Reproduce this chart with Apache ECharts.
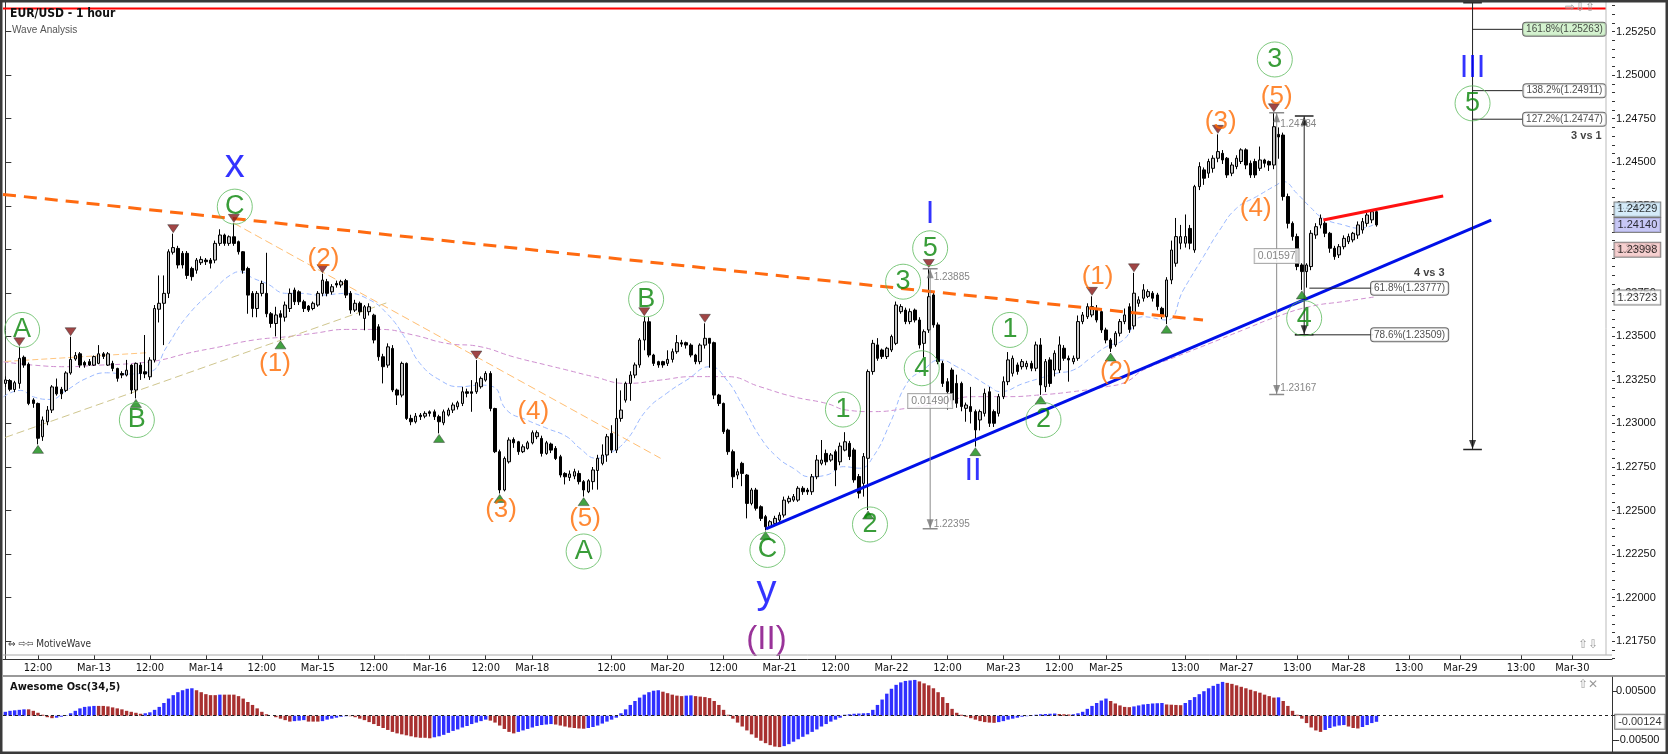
<!DOCTYPE html>
<html><head><meta charset="utf-8">
<script src="https://cdn.jsdelivr.net/npm/echarts@6/dist/echarts.min.js"></script>
<style>html,body{margin:0;padding:0;background:#fff;overflow:hidden}#c{width:1668px;height:754px}</style>
</head><body><div id="c"></div>
<script>
// ---------- DATA (prices in pips above 1.2000) ----------
const candleOpen = [
323,324.5,319.5,323,338,334,313.5,311.5,292.4,301,
307.7,321,319.6,319,329,337,340,335,335.5,333.5,
334.5,340,333.5,334.5,331.6,328.7,327.8,333.5,319.2,333.5,
329.7,326.8,336.4,365.6,369,374.7,398.3,400.5,397.7,397.7,
389,388,392.3,393.8,393.8,393.8,403.4,408.2,403.4,407.2,
404.4,398.6,389,374.7,366,374.7,374.7,363,357.4,363,
361,366,376.6,375.6,369.9,367.4,366,368,374.7,381.4,
375.6,380.4,379.5,382,374.7,365.1,369,360.3,364.2,362.2,
355.5,338.3,333.5,343.1,319.2,316.3,334.5,302.9,301,304.8,
304.2,306.7,306.7,303.9,300.4,304.8,307.7,309.6,311.5,318.2,
318.2,318.2,321.1,324.9,328.7,308.6,283.8,261.8,278,290.8,
289.5,283.8,285.7,288.9,292.4,291.4,282.8,288.2,285.7,280.9,
271.3,269,269.8,271.3,266.6,260.8,266.6,273,277.1,281.9,
294.3,284.7,302.9,313.4,323,327.8,333.6,347.9,358.4,339.3,
335.5,335.5,334.5,336.8,341.2,346.4,346.4,345,339.3,335.5,
345,348.9,346.4,316.3,311.5,296.2,283.8,270.4,277.1,270.4,
254.1,261.8,252.2,246.5,240.7,242.6,244.5,247.4,255.1,256,
256,262.8,261.8,260.8,269.4,277.1,282.8,279,283.8,278,
284.7,288.6,284.8,269.5,265.6,280,329.8,345.1,342.2,338.4,
342.2,346,364.2,365.1,358.5,365.1,359.4,346,353.7,373.8,
356.6,334.5,324,330.7,323,323,308.7,309.7,306.8,302,
305.8,318.2,306.8,305.8,315.4,324,328.8,333.6,332.6,332.6,
334.5,331.7,345.1,321.1,336.5,330.7,330.7,343.2,337.4,335.5,
337.4,358.5,361.3,362.3,366.1,364.2,353.7,347.9,345.1,351.8,
358.5,367,356,369,371.9,373,374.8,373.8,366.1,361.3,
382.4,392,403.5,403.5,412,399.6,436,445.6,443.7,446.5,
452.3,455.1,452.3,443.7,447.5,450.4,457.1,449.4,450.4,446.5,
451.3,450.4,448.4,466,465.6,430.3,414.9,407.3,391,387.2,
390.1,408.2,414,415,409.2,400.6,396.8,401.5,404.4,405.4,
408.2,411.1,414.9,416.9,421.6];
const candleClose = [
325,319.6,323.4,337.4,333.5,311.5,311.5,291.5,302,307.7,
321,317,317,329,336.8,339,333.5,333.5,333.5,338.4,
340,338.5,340,331.6,325.9,327.8,330.6,319.2,334.5,328.7,
328.4,336.4,366,369,374.7,398.6,401,391,391,385,
384.3,393.8,394.2,392.9,392,403.4,408.2,403.4,407.2,403.4,
398.6,388,373.7,366,374.7,380.4,363,357.4,362.3,361,
368,374.7,369.9,369.9,366,365.1,369,374.7,382.3,374.7,
378.5,379.5,381.4,373.7,365.1,369,364.2,367,367,347.9,
338.3,332.6,344,319.2,316.3,334.5,302.9,301,304.2,303.9,
305.8,305.8,303.9,301,306.7,307.7,310.6,311.9,318.2,317.3,
317.3,323.4,325.9,328.7,308.6,283.8,261.8,279.9,290.5,288.9,
283.8,286.6,288.9,294.7,294.7,282.8,288.9,284.7,279.9,270.4,
269.4,271,272.3,266.6,261.8,267.1,273.3,280,281.9,292.4,
284.7,302.9,307.7,323,327.8,333.6,347.9,358.4,339.3,334.5,
333.6,333.6,336.8,341.2,346.4,345.6,345,339.3,335.5,345,
348.9,346,316.3,311.5,295.3,283.8,269.4,272.3,271.3,254.1,
261.8,251.3,245.5,240.7,243.6,245.5,247.4,256,257,258,
262.8,260.8,260.8,269.4,279,279,278,281.9,273.3,287,
289.5,281,267.6,260,281,329.8,346,337.4,338.4,343.2,
349.9,368,367.1,358.5,364.2,359.4,345.1,352.7,372.8,356.6,
335.5,323,318.2,313.5,311.6,309.7,310.6,306.8,296.3,306.8,
317.3,300.1,300.1,315.4,324,336.5,337.4,329.8,335.5,334.5,
331.7,345.1,322.1,335.5,323,340.3,345.1,337.4,336.5,337.4,
358.5,362.3,367.1,367.1,359.4,353.7,347.9,343.2,351.8,358.5,
362.3,354,374.8,371,376.7,375.7,371.9,367.1,362.3,382.4,
399.6,407.3,407.3,407.3,403.5,436,447.5,440.8,450.4,452.3,
456.1,451.3,442.7,448.4,452.3,457.1,448.4,442.7,442.7,451.3,
449.4,448.4,470.4,464.5,430.3,414.9,407.3,390.1,387.2,391,
409.2,413,417.9,409.2,400.6,395.8,401.5,406.3,407.3,409.2,
414,415.9,419.7,421.6,414];
const candleHigh = [
327,325.5,324.5,344,339,335,314.5,312,304,310,
322,325.8,321,330,349.8,341,341,336,337,339,
345,341,341,336,332,330,336.5,334,335,335,
350.8,338,368,385,385,400,409,402,399,399,
390,395,396,395,395,405,411.5,409,408,414.9,
405,399,390,376,376,382,398,364,367,365,
370,377.5,378,376.5,371,368,370,376,386,383,
380,382,382.5,383,376,371,370,368,369,363,
357,340,346,345,320,335.5,335,305,306,306,
307,307.5,308,305,308,309,312,313,321,320,
324.9,336.4,327,330,330,309,285,281,292,292,
290,288,290,296,296,293,290,289,287,282,
272,273,274,273,267.5,268,275,282,288,294,
299,325.9,319,324,330,335,349,361.3,361,340,
336,336,342,343,350.8,348,347,346,340,346,
357.5,349,347,317,312,297,285,274,278,271,
263,263,253,247.5,244.5,247,249,258,258.5,259.5,
264,264,263,271,281.9,290.5,285,283,285,289,
295,290,286,271,283,331,348,349,343,344,
351,370,368.5,366.5,366,366,361,354,389,375.7,
358,336,326,332,328,324,312,321,308,308,
320,321,308,317,327,341,339,335,337,336,
336,347,349,337,338,342,350,345,339,339,
362,364,369,373,368,365,355,349,353,360,
366,369,386.5,373,380,377,376,375,367,384,
405,418,414,420,414,437,450,447,452,454,
466,457,453,450,454,458,458,451,452,459,
452,451,478.4,470,467,432,416,409,392,392,
411,415,420,417,410,402,403,408,409,410,
416,418,421,423,423];
const candleLow = [
321,318.5,318,320,332,310.5,309,288,290,299,
306,316,314,318,328,336,332,332,333,333,
334,337,333,330,324,326,327,317,314.4,325,
326,325,335,358,345,372,397,389,389,383,
382,386,391,391,389,392,402,402,402,402,
397,386,363,361,361,373,361,355,350,348,
358.5,364,368,368,364,364,365,367,373,373,
374,378,378,372,363,364,362,353.5,362,346,
336,323,332,318,310.6,315,302,299,300,302,
303,304,302,294.3,299,304,306,308,310,315,
306.7,317,320,324,307,283,259.8,261,277,286,
282,283,285,288,291,281,282,283,279,269,
265,267,268,265,258,260,262,262,276,278,
283,283,301,312,313,326,332,342,338,333,
332,332,333,335,340,344,343,338,334,334,
343,332,314,310,294,282,263,268,264,245.5,
253,250,244,238.6,240,241,243,246,254,255,
255,259,259,259,268,276,276,278,264,276,
284,279,266,257,258,250.3,328,336,337,337,
341,345,363,357,357,358,343,338,352,355,
334,321,308,311,309,307,301,300,286.7,296,
304,298,298,304,314,322,327,328,331,331,
330,330,316.4,318,321,327,329,336,324,334,
336,357,360,361,358,352,346,341,344,350,
357,352,354,367,370,372,370,365,360,357,
380,390,400,401,400,398,434,437,441,444,
450,449,441,442,446,449,446,441,441,445,
447,445,446,452,428,412,405,388,376.7,378,
388,406,412,407,398,394,395,400,403,404,
406,409,413,415,413];
// Awesome oscillator (pips)
const aoValues = [
8,10,11,12,13,13,10,6,2,-3,
-5,-4,-2,1,5,10,15,18,19,20,
20,20,19,17,15,13,10,8,6,4,
5,7,12,18,26,35,42,48,52,55,
56,52,48,44,42,42,43,43,43,43,
40,35,28,22,15,8,3,0,-3,-6,
-9,-12,-11,-10,-9,-12,-12,-12,-11,-8,
-6,-4,-2,-1,-1,-3,-6,-9,-13,-17,
-21,-25,-29,-33,-36,-38,-40,-42,-44,-45,
-45,-46,-44,-42,-39,-35,-31,-28,-24,-21,
-17,-14,-11,-8,-10,-14,-20,-27,-33,-36,
-33,-30,-27,-24,-21,-19,-18,-17,-18,-20,
-22,-24,-25,-26,-26.5,-25,-23,-20,-16,-12,
-8,-4,5,13,22,30,37,43,48,51,
52,49,46,43,41,40,41,41.5,40,39,
38,36,30,22,12,2,-6,-14,-22,-30,
-38,-45,-51,-56,-60,-63,-64,-62,-58,-53,
-48,-43,-38,-33,-28,-22,-17,-12,-8,-4,
2,3,4,4.5,5,5.5,12,22,33,45,
55,63,68,71,72,73,70,66,62,56,
48,38,26,14,6,2,-2,-5,-8,-11,
-13,-14,-14.5,-13,-11,-8,-6,-4,-2,-1,
1,2,3,3.5,4,4.5,3.5,3,2.5,3,
5,8,14,20,26,31,35,30,25,21,
18,17.5,19,21,23,24,25,25.5,26,23,
22.5,22,21.5,26,32,38,44,50,56,61,
65,69,67,65,62,59,56,53,50,47,
43,40,37,37.5,30,20,10,2,-6,-15,
-24,-30,-33,-29,-25,-22,-20,-19,-22,-25,
-26,-23,-19,-15,-12.4];
// moving averages: [bar index, pips]
const maFast = [[-0.4,315.3],[3.2,319],[6,315.3],[9.6,313.8],[13.2,319.2],[17.4,325.9],[21.7,329.1],[26,328.4],[31,329.7],[34.6,344],[38.9,361.3],[44.6,376.6],[48.9,386.2],[50.3,387.1],[53.2,383.3],[56,380.4],[60.3,374.7],[63.2,374.7],[67.5,373.7],[73.2,374.7],[77.5,371.8],[81.8,363.2],[86,347.9],[88.9,334.5],[93.2,324.9],[97.5,321.1],[101.8,322],[104.6,321.1],[107.5,307.7],[111.8,302],[116.1,297.2],[120.4,292.4],[123.2,285.7],[126.8,280],[129.6,282.8],[133.2,290.5],[137.5,307.7],[141.8,317.3],[146.1,324.9],[151.1,332.6],[154.7,324.9],[158.2,309.6],[161.8,292.4],[165.4,280.9],[169,274.2],[172.5,269.4],[176.1,270.4],[179.7,275.2],[183.2,274.3],[186.1,281],[189.7,300.1],[193.3,323],[196.8,330.7],[200.4,336.5],[204,332.6],[207.6,326.9],[211.1,321.1],[213.3,318.3],[218.3,323],[221.9,326],[225.4,328.8],[229,330.7],[232.6,337.4],[236.1,344.1],[239.7,347.9],[244,361.3],[249,359.4],[252.6,376.7],[256.9,395.8],[260.4,411.1],[264,423.6],[268.3,430.3],[272.6,437],[274,438.9],[276.9,432.2],[279.7,424.5],[282.6,417.8],[286.9,414],[290.5,412.1],[293.3,414]];
const maSlow = [[-0.4,335.4],[6,333.5],[13.2,332.6],[20.3,333.5],[27.5,334.5],[33.2,336.4],[38.9,340.2],[46,344],[53.2,347.9],[60.3,349.8],[66,351.7],[73.2,354],[80.3,354],[87.5,350.8],[94.6,346],[101.8,344.1],[108.9,338.3],[116.1,333.5],[120.4,330.7],[126.1,326.9],[133.2,323],[140.4,324.9],[147.5,326.9],[154.7,326.9],[161.8,321.1],[168.9,315.4],[176.1,311.5],[180.4,307.7],[186.1,306.8],[193.3,308.7],[200.4,311.6],[207.6,315.4],[214.7,315.4],[221.9,316.4],[229,318.3],[236.1,321.1],[240.4,324],[244,330.7],[251.1,338.4],[258.3,346],[265.4,353.7],[272.6,361.3],[279.7,367.1],[286.9,370],[294,372.8]];
// time axis
const timeLabelIdx = [7,19,31,43,55,67,79,91,103,113,130,142,154,166,178,190,202,214,226,236,253,264,277,288,301,312,325,336];
const timeLabelText = ['12:00','Mar-13','12:00','Mar-14','12:00','Mar-15','12:00','Mar-16','12:00','Mar-18','12:00','Mar-20','12:00','Mar-21','12:00','Mar-22','12:00','Mar-23','12:00','Mar-25','13:00','Mar-27','13:00','Mar-28','13:00','Mar-29','13:00','Mar-30'];
const priceTicks = [1.2175,1.22,1.2225,1.225,1.2275,1.23,1.2325,1.235,1.2375,1.24,1.2425,1.245,1.2475,1.25,1.2525];
const oscTicks = [-0.005,0.005];
const priceTags = [1.24229,1.24140,1.23998,1.23723];
// swing markers (bar indices)
const swingHighIdx = [3,14,36,49,68,101,137,150,198,233,242,260,272];
const swingLowIdx = [7,28,59,93,106,124,163,185,208,222,237,249,278];
// wave labels [bar index, pips, text]
const greenWaves = [[3.6,353.7,'A'],[28.2,302,'B'],[49.2,424.5,'C'],[124,226.5,'A'],[137.4,371.3,'B'],[163.4,227.4,'C'],[179.6,308,'1'],[185.4,242,'2'],[192.5,381.4,'3'],[196.5,331.7,'4'],[198.3,400.6,'5'],[215.4,353.7,'1'],[222.6,302,'2'],[272.2,509,'3'],[278.5,360.4,'4'],[314.6,483.8,'5']];
const orangeWaves = [[57.8,334.5,'(1)'],[68.2,394.8,'(2)'],[106.3,250.3,'(3)'],[113.2,306.8,'(4)'],[124.3,245.5,'(5)'],[234.2,384.3,'(1)'],[238.1,329.8,'(2)'],[260.6,473.3,'(3)'],[268.1,423.5,'(4)'],[272.6,487.6,'(5)']];
const blueLetters = [[49.2,447.6,'x'],[163.2,203,'y']];
const blueRoman = [[198.3,420,'I'],[207.5,272.2,'II'],[314.6,503.9,'III']];
const purpleWaves = [[163.2,175.5,'(II)']];
// trend lines [[bar, pips],[bar, pips]]
const lineOrangeThick = [[-0.5,431.5],[256.8,359.4]];
const lineBlue = [[163.1,239.5],[318.6,416.8]];
const lineRedShort = [[282.6,416.8],[308.3,430.6]];
const lineRedTop = [[-0.5,538.3],[343.2,538.3]];
const lineOrangeThin = [[49,415],[140.5,280]];
const lineOliveThin = [[0,292],[82,369.5]];
const lineOrangeFlat = [[0,335.6],[30.3,340.6]];
// measure tools
const measures = [
  {x:198.3, top:388.85, bottom:239.5, topText:'1.23885', bottomText:'1.22395', topOff:9, botOff:-5, box:'0.01490', boxP:312.9},
  {x:272.6, top:478.4, bottom:316.7, topText:'1.24784', bottomText:'1.23167', topOff:11, botOff:-6, box:'0.01597', boxP:396.2}
];
const fib43 = {x:278.5, top:476.5, bottom:350.9, levels:[[279.6,377.7,'61.8%(1.23777)'],[276.5,350.9,'78.6%(1.23509)']], lineEnd:293.3, boxX:301.1, title:[308.7,386.6,'4 vs 3']};
const fib31 = {x:314.6, top:541.6, bottom:285, levels:[[314.6,526.3,'161.8%(1.25263)'],[314.6,491.1,'138.2%(1.24911)'],[314.6,474.7,'127.2%(1.24747)']], lineEnd:325.3, boxX:334.3, title:[342.4,465.1,'3 vs 1']};

// ---------- CHART ----------
const N_SLOTS = 345;
const P = p => 1.2 + p * 0.0001;
const YMAX = 1.2542, YMIN = 1.2542 - 657 / 17416;
const OMAX = 0.0079, OMIN = -0.0074;
const FONT = "'Liberation Sans', Arial, Helvetica, sans-serif";
const NARROW = "'Liberation Sans Narrow', 'Arial Narrow', 'DejaVu Sans Condensed', 'Liberation Sans', sans-serif";
const labelSet = new Set(timeLabelIdx);
const cats = Array.from({length: N_SLOTS}, (_, i) => { const k = timeLabelIdx.indexOf(i); return k >= 0 ? timeLabelText[k] : ' ' + i; });
const minorTicks = []; for (let v = 1.2165; v < 1.2542; v += 0.0005) minorTicks.push(+v.toFixed(4));

const candleData = candleOpen.map((o, i) => {
  const c = candleClose[i];
  const h = Math.max(candleHigh[i], o, c), l = Math.min(candleLow[i], o, c);
  return [P(o), P(c), P(l), P(h)];
});
const aoData = aoValues.map((v, i) => ({
  value: v * 0.0001,
  itemStyle: {color: (i === 0 || v > aoValues[i - 1]) ? '#2f2fff' : '#a83030'}
}));

function seg(pts, color, width, type, z) {
  return {type: 'line', xAxisIndex: 1, yAxisIndex: 0, data: pts.map(([i, p]) => [i, P(p)]), symbol: 'none', silent: true,
    lineStyle: {color: color, width: width, type: type || 'solid'}, z: z || 6};
}
function texts(items, label, z) {
  return {type: 'scatter', xAxisIndex: 1, yAxisIndex: 0, symbolSize: 1, itemStyle: {color: 'rgba(0,0,0,0)'}, silent: true, clip: false, z: z || 8,
    data: items.map(([i, p, t]) => ({value: [i, P(p)], name: t})),
    label: Object.assign({show: true, position: 'inside', formatter: '{b}', fontFamily: FONT}, label)};
}
function arrows(items, color) {
  return {type: 'scatter', xAxisIndex: 1, yAxisIndex: 0, symbol: 'triangle', symbolSize: [7, 9], silent: true, z: 7,
    itemStyle: {color: color},
    data: items.map(([i, p, d]) => ({value: [i, P(p)], symbolRotate: d === 'down' ? 180 : 0, symbolOffset: [0, d === 'down' ? -5 : 5]}))};
}
const boxLabel = {color: '#222', fontSize: 10, backgroundColor: '#fff', borderColor: '#444', borderWidth: 1, borderRadius: 3, padding: [2, 3, 1, 3]};

const series = [];
// moving averages
series.push({type: 'line', xAxisIndex: 1, yAxisIndex: 0, data: maFast.map(([i, p]) => [i, P(p)]), smooth: 0.5, symbol: 'none', silent: true,
  lineStyle: {color: '#9bb9ff', width: 1, type: [5, 3]}, z: 3});
series.push({type: 'line', xAxisIndex: 1, yAxisIndex: 0, data: maSlow.map(([i, p]) => [i, P(p)]), smooth: 0.5, symbol: 'none', silent: true,
  lineStyle: {color: '#cf8fd0', width: 1, type: [5, 3]}, z: 3});
// price tags on the right axis
const tagBg = ['#cbe6f7', '#b9b9f2', '#f4c4c4', '#ffffff'];
priceTags.forEach((v, k) => {
  series.push({type: 'scatter', xAxisIndex: 1, yAxisIndex: 0, symbolSize: 1, itemStyle: {color: 'rgba(0,0,0,0)'}, silent: true, clip: false, z: 20,
    data: [{value: [N_SLOTS - 0.5, v], name: v.toFixed(5)}],
    label: {show: true, position: 'right', distance: 2, formatter: '{b}', fontFamily: FONT, fontSize: 11, color: '#000',
      backgroundColor: tagBg[k], borderColor: '#666', borderWidth: 1, padding: [2, 3, 1, 3]}});
});
// thin trend lines
series.push(seg(lineOrangeFlat, '#ffc680', 1, [6, 3], 4));
series.push(seg(lineOliveThin, '#cfc68e', 1, [8, 4], 4));
series.push(seg(lineOrangeThin, '#ffbe72', 1, [8, 4], 4));
// candles
series.push({type: 'candlestick', xAxisIndex: 0, yAxisIndex: 0, data: candleData, barWidth: 3, silent: true, z: 5,
  itemStyle: {color: '#c6c6c6', color0: '#000', borderColor: '#000', borderColor0: '#000', borderWidth: 1}});
// thick trend lines
series.push(seg(lineOrangeThick, '#ff6a10', 3, [13, 8], 6));
series.push(seg(lineBlue, '#0010e8', 3, 'solid', 6));
series.push(seg(lineRedShort, '#ff1010', 3, 'solid', 6));
series.push(seg(lineRedTop, '#ff0000', 2, 'solid', 6));
// swing markers
series.push({type: 'scatter', xAxisIndex: 0, yAxisIndex: 0, symbol: 'triangle', symbolSize: [11, 8], symbolRotate: 180, symbolOffset: [0, -5], silent: true, z: 7,
  itemStyle: {color: '#8a1616', borderColor: '#333', borderWidth: 0.6}, data: swingHighIdx.map(i => [i, P(Math.max(candleHigh[i], candleOpen[i], candleClose[i]))])});
series.push({type: 'scatter', xAxisIndex: 0, yAxisIndex: 0, symbol: 'triangle', symbolSize: [11, 8], symbolOffset: [0, 5], silent: true, z: 7,
  itemStyle: {color: '#138a13', borderColor: '#333', borderWidth: 0.6}, data: swingLowIdx.map(i => [i, P(Math.min(candleLow[i], candleOpen[i], candleClose[i]))])});
// measure tools (gray)
measures.forEach(m => {
  series.push(seg([[m.x, m.top], [m.x, m.bottom]], '#8a8a8a', 1, 'solid', 6));
  series.push(seg([[m.x - 1.6, m.top], [m.x + 1.6, m.top]], '#8a8a8a', 1.5, 'solid', 6));
  series.push(seg([[m.x - 1.6, m.bottom], [m.x + 1.6, m.bottom]], '#8a8a8a', 1.5, 'solid', 6));
  series.push(arrows([[m.x, m.top, 'up'], [m.x, m.bottom, 'down']], '#777'));
  series.push(texts([[m.x, m.top, m.topText]], {position: 'right', distance: 3, offset: [0, m.topOff], color: '#666', fontSize: 10}));
  series.push(texts([[m.x, m.bottom, m.bottomText]], {position: 'right', distance: 3, offset: [0, m.botOff], color: '#666', fontSize: 10}));
  series.push(texts([[m.x, m.boxP, m.box]], Object.assign({}, boxLabel, {color: '#666', borderColor: '#999', borderRadius: 0, fontSize: 10.5})));
});
// fib tools (black)
[fib43, fib31].forEach((f, k) => {
  series.push(seg([[f.x, f.top], [f.x, f.bottom]], '#222', 1, 'solid', 6));
  series.push(seg([[f.x - 2, f.top], [f.x + 2, f.top]], '#222', 1.5, 'solid', 6));
  series.push(seg([[f.x - 2, f.bottom], [f.x + 2, f.bottom]], '#222', 1.5, 'solid', 6));
  series.push(arrows(k === 0 ? [[f.x, f.top, 'up'], [f.x, f.bottom, 'down']] : [[f.x, f.bottom, 'down']], '#111'));
  f.levels.forEach(([x0, p, t], j) => {
    series.push(seg([[x0, p], [f.lineEnd, p]], '#222', 1, 'solid', 6));
    series.push(texts([[f.boxX, p, t]], Object.assign({}, boxLabel, (k === 1 && j === 0) ? {backgroundColor: '#c9efc3'} : {})));
  });
  series.push(texts([f.title], {position: 'left', distance: 0, color: '#111', fontSize: 11, fontWeight: 'bold'}));
});
// wave labels
series.push({type: 'scatter', xAxisIndex: 1, yAxisIndex: 0, symbol: 'circle', symbolSize: 35, silent: true, z: 8,
  itemStyle: {color: 'rgba(255,255,255,0)', borderColor: '#5cba5c', borderWidth: 1},
  data: greenWaves.map(([i, p, t]) => ({value: [i, P(p)], name: t})),
  label: {show: true, position: 'inside', formatter: '{b}', color: '#078507', fontSize: 27, fontFamily: FONT}});
series.push(texts(orangeWaves, {color: '#ff6a00', fontSize: 26}));
series.push(texts(blueLetters, {color: '#0000ff', fontSize: 40}));
series.push(texts(blueRoman, {color: '#0000ff', fontSize: 31}));
series.push(texts(purpleWaves, {color: '#800080', fontSize: 33}));
// oscillator
series.push({type: 'bar', xAxisIndex: 2, yAxisIndex: 2, data: aoData, barWidth: 3.4, silent: true, z: 3,
  markLine: {symbol: 'none', silent: true, animation: false,
    data: [{yAxis: 0, lineStyle: {color: '#222', type: [3, 3], width: 1}, label: {show: false}}]}});
series.push({type: 'scatter', xAxisIndex: 2, yAxisIndex: 2, symbolSize: 1, itemStyle: {color: 'rgba(0,0,0,0)'}, silent: true, clip: false, z: 20,
  data: [{value: [N_SLOTS - 1, aoValues[aoValues.length - 1] * 0.0001], name: (aoValues[aoValues.length - 1] * 0.0001).toFixed(5)}],
  label: {show: true, position: 'right', distance: 5, formatter: '{b}', fontFamily: FONT, fontSize: 11, color: '#000',
    backgroundColor: '#fff', borderColor: '#555', borderWidth: 1, padding: [2, 3, 1, 3]}});

const chart = echarts.init(document.getElementById('c'), null, {renderer: 'canvas'});
chart.setOption({
  animation: false,
  backgroundColor: '#fff',
  textStyle: {fontFamily: FONT},
  grid: [
    {left: 3, top: 2, width: 1609, height: 657},
    {left: 3, top: 677, width: 1609, height: 75}
  ],
  xAxis: [
    {type: 'category', gridIndex: 0, data: cats, boundaryGap: true,
      axisLine: {show: true, lineStyle: {color: '#333'}},
      axisTick: {show: true, interval: (i) => labelSet.has(i), alignWithLabel: true, inside: true, length: 4, lineStyle: {color: '#333'}},
      axisLabel: {interval: (i) => labelSet.has(i), fontSize: 11, color: '#111', fontFamily: NARROW, margin: 4},
      splitLine: {show: false}},
    {type: 'value', gridIndex: 0, min: -0.5, max: N_SLOTS - 0.5, show: false},
    {type: 'category', gridIndex: 1, data: cats, boundaryGap: true, show: false}
  ],
  yAxis: [
    {type: 'value', gridIndex: 0, position: 'right', min: YMIN, max: YMAX,
      axisLine: {show: true, lineStyle: {color: '#333'}},
      axisTick: {show: true, length: 6, customValues: priceTicks, lineStyle: {color: '#333'}},
      axisLabel: {customValues: priceTicks, formatter: v => v.toFixed(5), fontSize: 11, color: '#111', fontFamily: FONT, margin: 4},
      splitLine: {show: false}},
    {type: 'value', gridIndex: 0, position: 'right', min: YMIN, max: YMAX,
      axisLine: {show: false}, axisTick: {show: true, length: 3, customValues: minorTicks, lineStyle: {color: '#333'}},
      axisLabel: {show: false}, splitLine: {show: false}},
    {type: 'value', gridIndex: 1, position: 'right', min: OMIN, max: OMAX,
      axisLine: {show: true, lineStyle: {color: '#333'}},
      axisTick: {show: true, length: 5, customValues: [-0.005, 0, 0.005], lineStyle: {color: '#333'}},
      axisLabel: {customValues: oscTicks, formatter: v => v.toFixed(5), fontSize: 11, color: '#111', fontFamily: FONT, margin: 4},
      splitLine: {show: false}}
  ],
  series: series,
  graphic: [
    {type: 'rect', silent: true, z: 100, shape: {x: 1, y: 1, width: 1666, height: 752}, style: {fill: 'none', stroke: '#3a3a3a', lineWidth: 3}},
    {type: 'line', silent: true, z: 50, shape: {x1: 3, y1: 655, x2: 1612, y2: 655}, style: {stroke: '#aaa', lineWidth: 1}},
    {type: 'line', silent: true, z: 50, shape: {x1: 1606, y1: 2, x2: 1606, y2: 655}, style: {stroke: '#bbb', lineWidth: 1}},
    {type: 'line', silent: true, z: 50, shape: {x1: 3, y1: 676, x2: 1665, y2: 676}, style: {stroke: '#777', lineWidth: 1.5}},
    {type: 'text', silent: true, z: 60, left: 10, top: 8, style: {text: 'EUR/USD - 1 hour', font: "bold 12px " + NARROW, fill: '#111'}},
    {type: 'text', silent: true, z: 60, left: 12, top: 25, style: {text: 'Wave Analysis', font: "10px " + FONT, fill: '#555'}},
    {type: 'text', silent: true, z: 60, left: 8, top: 639, style: {text: '⇔ ⇨⇦ MotiveWave', font: "10px " + NARROW, fill: '#333'}},
    {type: 'text', silent: true, z: 60, left: 10, top: 682, style: {text: 'Awesome Osc(34,5)', font: "bold 11px " + NARROW, fill: '#111'}},
    {type: 'text', silent: true, z: 60, left: 1565, top: 2, style: {text: '⇨⇩⇧', font: "12px " + FONT, fill: '#999'}},
    {type: 'text', silent: true, z: 60, left: 1578, top: 639, style: {text: '⇧⇩', font: "12px " + FONT, fill: '#999'}},
    {type: 'text', silent: true, z: 60, left: 1578, top: 679, style: {text: '⇧✕', font: "12px " + FONT, fill: '#999'}}
  ]
});
</script></body></html>
